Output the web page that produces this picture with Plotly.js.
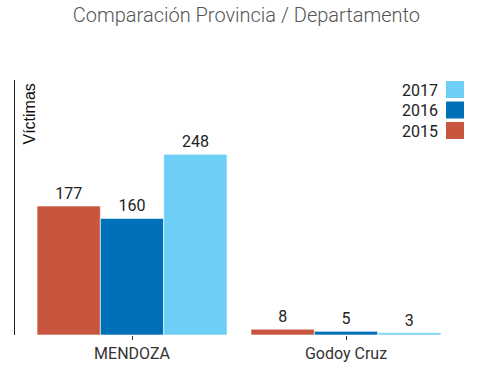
<!DOCTYPE html>
<html>
<head>
<meta charset="utf-8">
<script src="https://cdn.plot.ly/plotly-3.0.1.min.js"></script>
<style>html,body{margin:0;padding:0;background:#fff}#chart{width:477px;height:372px}</style>
</head>
<body>
<div id="chart"></div>
<script>
const categories = ["MENDOZA", "Godoy Cruz"];
const years = ["2015", "2016", "2017"];
const values2015 = [177, 8];
const values2016 = [160, 5];
const values2017 = [248, 3];
const colors = ["#c8553d", "#0070b8", "#6dcff6"];

const series = [values2015, values2016, values2017];
const traces = series.map((vals, i) => ({
  type: "bar",
  name: years[i],
  x: categories,
  y: vals,
  text: vals.map(String),
  textposition: "outside",
  cliponaxis: false,
  textfont: {family: "Roboto", size: 16, color: "#222", weight: 400},
  marker: {color: colors[i], line: {color: "rgba(255,255,255,0.6)", width: 1}},
  hoverinfo: "none",
  showlegend: false
}));

// legend drawn as text + swatches, reversed order (2017 on top)
const annotations = [];
const shapes = [];
const legendOrder = [2, 1, 0];
legendOrder.forEach((idx, row) => {
  const yTop = 81 + row * 20.5;
  annotations.push({
    xref: "paper", yref: "paper",
    x: (440 - 15) / 438, y: 1 - (yTop + 9 - 80) / 255,
    xanchor: "right", yanchor: "middle",
    text: years[idx], showarrow: false,
    font: {family: "Roboto", size: 16, color: "#222", weight: 400}
  });
  shapes.push({
    type: "rect", xref: "paper", yref: "paper",
    x0: (446 - 15) / 438, x1: (464 - 15) / 438,
    y0: 1 - (yTop + 17 - 80) / 255, y1: 1 - (yTop - 80) / 255,
    fillcolor: colors[idx], line: {width: 0}
  });
});
annotations.push({
  xref: "paper", yref: "paper", x: (29 - 15) / 438, y: 1 - (82 - 80) / 255,
  xanchor: "center", yanchor: "top", textangle: -90,
  text: "Víctimas", showarrow: false,
  font: {family: "Liberation Sans", size: 16, color: "#111"}
});

const layout = {
  width: 477, height: 372,
  margin: {l: 15, r: 24, t: 80, b: 37},
  paper_bgcolor: "#fff", plot_bgcolor: "#fff",
  title: {
    text: "Comparación Provincia / Departamento",
    x: 252 / 477, xanchor: "center", xref: "paper",
    y: 1 - 15 / 372, yanchor: "middle",
    font: {family: "Roboto", size: 20, color: "#555", weight: 300}
  },
  barmode: "group",
  bargap: 0.112,
  bargroupgap: 0,
  xaxis: {
    type: "category",
    range: [-0.547, 1.5],
    showline: false, showgrid: false, zeroline: false,
    ticks: "outside", ticklen: 4, tickcolor: "#333", tickwidth: 1,
    tickfont: {family: "Roboto", size: 16, color: "#333", weight: 400}
  },
  yaxis: {
    range: [0, 350],
    showline: true, linecolor: "#222", linewidth: 1,
    showgrid: false, zeroline: false, showticklabels: false, ticks: ""
  },
  annotations: annotations,
  shapes: shapes,
  showlegend: false
};

Plotly.newPlot("chart", traces, layout, {displayModeBar: false, staticPlot: true});
</script>
</body>
</html>
